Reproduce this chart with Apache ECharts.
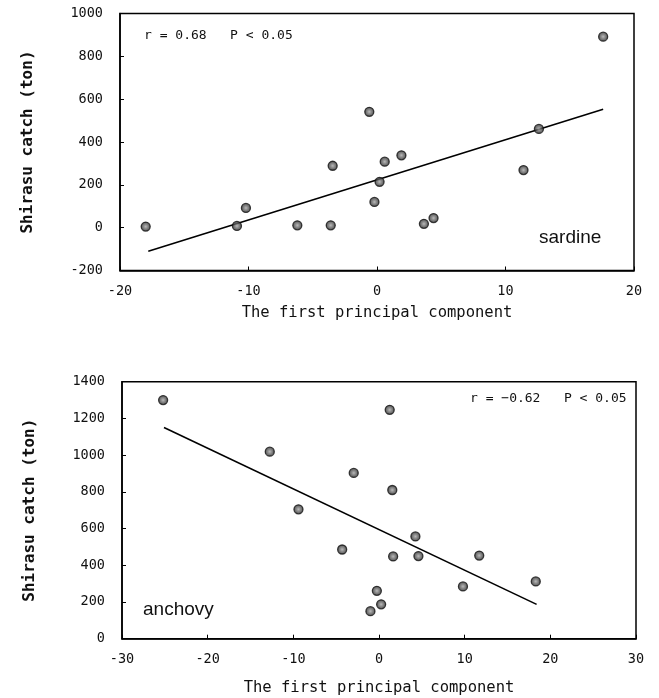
<!DOCTYPE html>
<html>
<head>
<meta charset="utf-8">
<script src="https://cdn.jsdelivr.net/npm/echarts@6/dist/echarts.min.js"></script>
<style>
html,body{margin:0;padding:0;background:#fff;}
#c{width:659px;height:698px;}
</style>
</head>
<body>
<div id="c"></div>
<script>
// Sardine panel
const sardineX = [-18.0, -10.9, -10.2, -6.2, -3.6, -3.45, -0.6, -0.2, 0.2, 0.6, 1.9, 3.65, 4.4, 11.4, 12.6, 17.6];
const sardineY = [5, 8, 92, 11, 11, 289, 541, 120, 214, 308, 338, 18, 45, 269, 461, 892];
const sardineFitX = [-17.8, 17.6];
const sardineFitY = [-110, 553];
// Anchovy panel
const anchovyX = [-25.2, -12.75, -9.4, -4.3, -2.95, -1.0, -0.25, 0.25, 1.25, 1.55, 1.65, 4.25, 4.6, 9.8, 11.7, 18.3];
const anchovyY = [1300, 1019, 705, 486, 903, 150, 261, 187, 1247, 810, 448, 557, 450, 285, 453, 312];
const anchovyFitX = [-25.1, 18.4];
const anchovyFitY = [1151, 187];
// Axis ranges / ticks
const topXTicks = {min: -20, max: 20, interval: 10};
const topYTicks = {min: -200, max: 1000, interval: 200};
const botXTicks = {min: -30, max: 30, interval: 10};
const botYTicks = {min: 0, max: 1400, interval: 200};
const xTitle = 'The first principal component';
const yTitle = 'Shirasu catch (ton)';
const topStat = 'r = 0.68   P < 0.05';
const botStat = 'r = \u22120.62   P < 0.05';
const topSpecies = 'sardine';
const botSpecies = 'anchovy';

const zip = (a, b) => a.map((v, i) => [v, b[i]]);
const mono = 'DejaVu Sans Mono';
const markerColor = {
  type: 'radial', x: 0.5, y: 0.5, r: 0.5,
  colorStops: [{offset: 0, color: '#a8a8a8'}, {offset: 0.45, color: '#666'}, {offset: 1, color: '#222'}]
};
const plain = v => String(v);

function xAxis(idx, t, gap) {
  return {
    type: 'value', gridIndex: idx, min: t.min, max: t.max, interval: t.interval,
    name: xTitle, nameLocation: 'middle', nameGap: gap,
    nameTextStyle: {fontFamily: mono, fontSize: 15.5, color: '#111'},
    axisLine: {show: true, onZero: false, lineStyle: {color: '#000', width: 1.5}},
    axisTick: {show: true, inside: true, length: 4, lineStyle: {color: '#000', width: 1}},
    axisLabel: {fontFamily: mono, fontSize: 13.5, color: '#111', margin: 14, formatter: plain},
    splitLine: {show: false}
  };
}
function yAxis(idx, t) {
  return {
    type: 'value', gridIndex: idx, min: t.min, max: t.max, interval: t.interval,
    name: yTitle, nameLocation: 'middle', nameGap: 84, nameRotate: 90,
    nameTextStyle: {fontFamily: mono, fontSize: 16, fontWeight: 'bold', color: '#111'},
    axisLine: {show: true, onZero: false, lineStyle: {color: '#000', width: 1.5}},
    axisTick: {show: true, inside: true, length: 4, lineStyle: {color: '#000', width: 1}},
    axisLabel: {fontFamily: mono, fontSize: 13.5, color: '#111', margin: 17, formatter: plain},
    splitLine: {show: false}
  };
}
function scatter(idx, data) {
  return {
    type: 'scatter', xAxisIndex: idx, yAxisIndex: idx, data: data,
    symbol: 'circle', symbolSize: 9,
    itemStyle: {color: markerColor, borderColor: '#111', borderWidth: 1.3},
    z: 3
  };
}
function fit(idx, data) {
  return {
    type: 'line', xAxisIndex: idx, yAxisIndex: idx, data: data,
    symbol: 'none', lineStyle: {color: '#000', width: 1.6}, z: 2, silent: true
  };
}

const chart = echarts.init(document.getElementById('c'), null, {renderer: 'canvas'});
chart.setOption({
  backgroundColor: '#fff',
  animation: false,
  grid: [
    {left: 120, right: 25, top: 13.5, height: 257, show: true, borderColor: '#000', borderWidth: 1.5},
    {left: 122, right: 23, top: 381.7, height: 257, show: true, borderColor: '#000', borderWidth: 1.5}
  ],
  xAxis: [xAxis(0, topXTicks, 34), xAxis(1, botXTicks, 41)],
  yAxis: [yAxis(0, topYTicks), yAxis(1, botYTicks)],
  series: [
    fit(0, zip(sardineFitX, sardineFitY)),
    scatter(0, zip(sardineX, sardineY)),
    fit(1, zip(anchovyFitX, anchovyFitY)),
    scatter(1, zip(anchovyX, anchovyY))
  ],
  graphic: [
    {type: 'text', left: 144, top: 29, style: {text: topStat, font: '13px "DejaVu Sans Mono"', fill: '#111'}},
    {type: 'text', left: 539, top: 228, style: {text: topSpecies, font: '19px "Liberation Sans"', fill: '#111'}},
    {type: 'text', left: 470, top: 392, style: {text: botStat, font: '13px "DejaVu Sans Mono"', fill: '#111'}},
    {type: 'text', left: 143, top: 600, style: {text: botSpecies, font: '19px "Liberation Sans"', fill: '#111'}}
  ]
});
</script>
</body>
</html>
